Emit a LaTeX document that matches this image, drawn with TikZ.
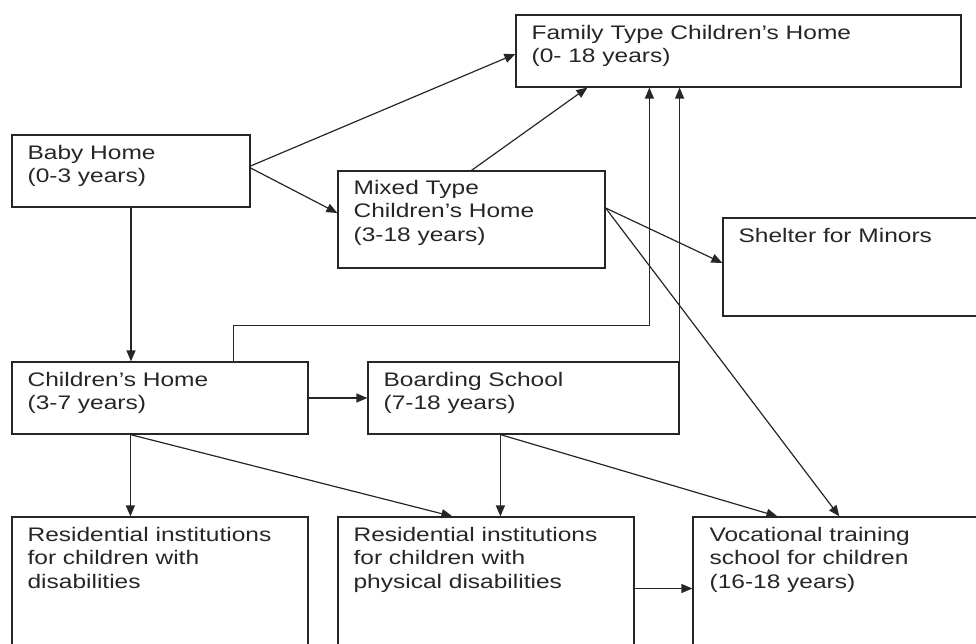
\documentclass[tikz,border=0pt]{standalone}
\usepackage{fontspec}
\setmainfont{Liberation Sans}[FakeStretch=1.25]
\usetikzlibrary{arrows.meta}

\tikzset{
  box/.style={draw=black!85, line width=1.2pt, rectangle, inner sep=0pt},
  txt/.style={align=left, anchor=base west, inner sep=0pt, text=black!85,
    font=\fontsize{19.6}{23.3}\selectfont},
  arr/.style={draw=black!85, line width=1.2pt, -{Triangle[length=11pt,width=9pt]}}
}

\begin{document}
\begin{tikzpicture}[x=1pt,y=-1pt]
        \useasboundingbox (0,0) rectangle (976,644);
        \clip (0,0) rectangle (976,644);
        %% boxes
        \node[box, minimum width=445, minimum height=72] (family) at (738.5,51) {};
        \node[box, minimum width=238, minimum height=72] (baby) at (131,171) {};
        \node[box, minimum width=267, minimum height=97] (mixed) at (471.5,219.5) {};
        \node[box, minimum width=267, minimum height=98] (shelter) at (856.5,267) {};
        \node[box, minimum width=296, minimum height=72] (chhome) at (160,398) {};
        \node[box, minimum width=311, minimum height=72] (boarding) at (523.5,398) {};
        \node[box, minimum width=296, minimum height=143] (resdis) at (160,588.5) {};
        \node[box, minimum width=296, minimum height=143] (resphys) at (486,588.5) {};
        \node[box, minimum width=297, minimum height=143] (voc) at (841.5,588.5) {};
        %% texts (base = last line)
        \node[txt, xshift=16pt, yshift=-48.3pt] (family-t) at (family.north west) {Family Type Children's Home\\(0- 18 years)};
        \node[txt, xshift=16pt, yshift=-48.3pt] (baby-t) at (baby.north west) {Baby Home\\(0-3 years)};
        \node[txt, xshift=16pt, yshift=-70.6pt] (mixed-t) at (mixed.north west) {Mixed Type\\Children's Home\\(3-18 years)};
        \node[txt, xshift=16pt, yshift=-25pt] (shelter-t) at (shelter.north west) {Shelter for Minors};
        \node[txt, xshift=16pt, yshift=-48.3pt] (chhome-t) at (chhome.north west) {Children's Home\\(3-7 years)};
        \node[txt, xshift=16pt, yshift=-48.3pt] (boarding-t) at (boarding.north west) {Boarding School\\(7-18 years)};
        \node[txt, xshift=16pt, yshift=-71.6pt] (resdis-t) at (resdis.north west) {Residential institutions\\for children with\\disabilities};
        \node[txt, xshift=16pt, yshift=-71.6pt] (resphys-t) at (resphys.north west) {Residential institutions\\for children with\\physical disabilities};
        \node[txt, xshift=17pt, yshift=-71.6pt] (voc-t) at (voc.north west) {Vocational training\\school for children\\(16-18 years)};
        %% from baby home
        \draw[arr] ([yshift=5pt]baby.east) -- ([yshift=-3pt]family.west);
        \draw[arr] ([yshift=3pt]baby.east) -- ([yshift=6.5pt]mixed.west);
        \draw[arr] (baby.south) -- (baby.south |- chhome.north);
        %% up to family type home
        \draw[arr] (mixed.north) -- ([xshift=72pt]family.south west);
        \draw[arr] ([xshift=222pt]chhome.north west) -- ++(0,-36) -| ([xshift=134pt]family.south west);
        \draw[arr] (boarding.north east) -- (boarding.north east |- family.south);
        %% from mixed type home
        \draw[arr] ([yshift=11.5pt]mixed.east) -- ([yshift=4pt]shelter.west);
        \draw[arr] ([yshift=11.5pt]mixed.east) -- ([xshift=147pt]voc.north west);
        %% from children's home
        \draw[arr] (chhome.east) -- (boarding.west);
        \draw[arr] ([xshift=119pt]chhome.south west) -- ([xshift=119pt]resdis.north west);
        \draw[arr] ([xshift=119pt]chhome.south west) -- ([xshift=115pt]resphys.north west);
        %% from boarding school
        \draw[arr] ([xshift=133pt]boarding.south west) -- ([xshift=163pt]resphys.north west);
        \draw[arr] ([xshift=133pt]boarding.south west) -- ([xshift=85pt]voc.north west);
        \draw[arr] (resphys.east) -- (voc.west);
    \end{tikzpicture}
\end{document}
